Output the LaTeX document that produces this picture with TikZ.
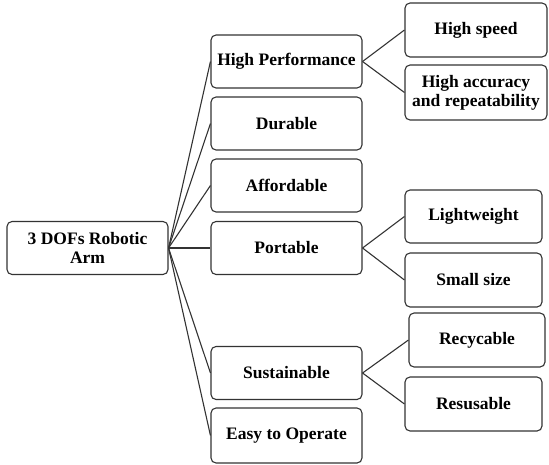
\documentclass[tikz,border=0pt]{standalone}
\usepackage{fontspec}
\setmainfont{Liberation Serif}
\begin{document}
\begin{tikzpicture}[x=1pt,y=-1pt,
  box/.style={draw=black!80, line width=1.1pt, rounded corners=5pt, fill=white,
    inner sep=0pt, align=center, font=\fontsize{17.5}{19}\selectfont\bfseries},
  link/.style={draw=black!80, line width=1.1pt}]
\useasboundingbox (0,0) rectangle (549,464);
\node[box, minimum width=161pt, minimum height=53pt] (root) at (87.5,248) {3 DOFs Robotic\\Arm};
\node[box, minimum width=151pt, minimum height=53pt] (hp) at (286.5,61.5) {High Performance};
\node[box, minimum width=151pt, minimum height=53pt] (du) at (286.5,123.5) {Durable};
\node[box, minimum width=151pt, minimum height=53pt] (af) at (286.5,185.5) {Affordable};
\node[box, minimum width=151pt, minimum height=53pt] (po) at (286.5,248) {Portable};
\node[box, minimum width=151pt, minimum height=53pt] (su) at (286.5,373) {Sustainable};
\node[box, minimum width=151pt, minimum height=55pt] (ea) at (286.5,435.5) {Easy to Operate};
\node[box, minimum width=142pt, minimum height=54pt] (hs) at (476,30) {High speed};
\node[box, minimum width=142pt, minimum height=55pt] (ha) at (476,92.5) {High accuracy\\and repeatability};
\node[box, minimum width=137pt, minimum height=53pt] (lw) at (473.5,216.5) {Lightweight};
\node[box, minimum width=137pt, minimum height=54pt] (ss) at (473.5,280) {Small size};
\node[box, minimum width=136pt, minimum height=54pt] (rc) at (477,340) {Recycable};
\node[box, minimum width=137pt, minimum height=54pt] (rs) at (473.5,404) {Resusable};
\foreach \m in {hp,du,af,po,su,ea} \draw[link] (root.east) -- (\m.west);
\draw[link] (hp.east) -- (hs.west);
\draw[link] (hp.east) -- (ha.west);
\draw[link] (po.east) -- (lw.west);
\draw[link] (po.east) -- (ss.west);
\draw[link] (su.east) -- (rc.west);
\draw[link] (su.east) -- (rs.west);
\end{tikzpicture}
\end{document}
